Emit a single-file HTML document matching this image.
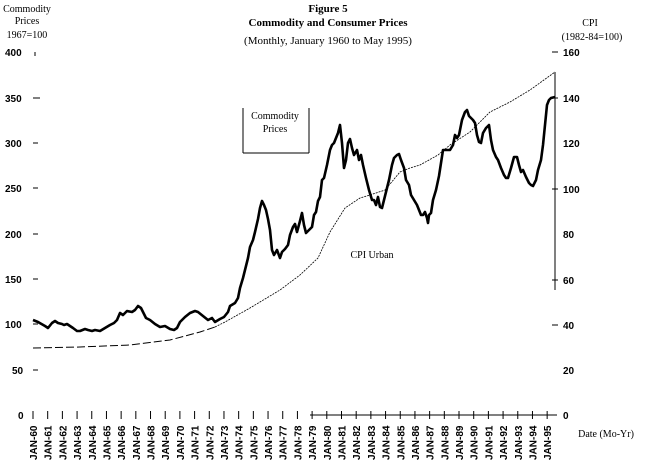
<!DOCTYPE html>
<html><head><style>
body{margin:0;background:#fff;}
svg{display:block;}
.s{font-family:"Liberation Serif",serif;font-size:11px;}
.n{font-family:"Liberation Sans",sans-serif;font-size:10px;}
</style></head><body>
<svg width="645" height="462" viewBox="0 0 645 462" xmlns="http://www.w3.org/2000/svg">
<rect width="645" height="462" fill="#fff"/>
<g class="s" text-anchor="middle" fill="#000">
<text x="328" y="12" font-weight="bold">Figure 5</text>
<text x="328" y="26" font-weight="bold">Commodity and Consumer Prices</text>
<text x="328" y="44">(Monthly, January 1960 to May 1995)</text>
<text x="27" y="12" font-size="10">Commodity</text>
<text x="27" y="24" font-size="10">Prices</text>
<text x="27" y="38" font-size="10">1967=100</text>
<text x="590" y="26" font-size="10">CPI</text>
<text x="592" y="40" font-size="10">(1982-84=100)</text>
<text x="275" y="119" font-size="10">Commodity</text>
<text x="275" y="132" font-size="10">Prices</text>
<text x="372" y="258" font-size="10">CPI Urban</text>
<text x="606" y="437" font-size="10">Date (Mo-Yr)</text>
</g>
<g class="n" font-weight="bold" fill="#000">
<text x="5" y="56">400</text><text x="5" y="102">350</text><text x="5" y="147">300</text>
<text x="5" y="192">250</text><text x="5" y="238">200</text><text x="5" y="283">150</text>
<text x="5" y="328">100</text><text x="12" y="374">50</text><text x="18" y="419">0</text>
<text x="563" y="56">160</text><text x="563" y="102">140</text><text x="563" y="147">120</text>
<text x="563" y="193">100</text><text x="563" y="238">80</text><text x="563" y="284">60</text>
<text x="563" y="329">40</text><text x="563" y="374">20</text><text x="563" y="419">0</text>
</g>
<g stroke="#000" stroke-width="1">
<line x1="35" y1="52" x2="35" y2="56"/><line x1="33" y1="98" x2="40" y2="98"/><line x1="33" y1="143" x2="38" y2="143"/>
<line x1="33" y1="188" x2="38" y2="188"/><line x1="33" y1="234" x2="38" y2="234"/><line x1="33" y1="279" x2="38" y2="279"/>
<line x1="33" y1="324" x2="38" y2="324"/><line x1="33" y1="370" x2="38" y2="370"/>
<line x1="555" y1="72" x2="555" y2="290"/>
<line x1="552" y1="52" x2="558" y2="52"/><line x1="552" y1="98" x2="558" y2="98"/><line x1="552" y1="189" x2="558" y2="189"/>
<line x1="552" y1="280" x2="558" y2="280"/><line x1="552" y1="325" x2="558" y2="325"/>
<line x1="310" y1="415" x2="557" y2="415"/>
<line x1="243" y1="108" x2="243" y2="153"/><line x1="243" y1="153" x2="309" y2="153"/><line x1="309" y1="108" x2="309" y2="153"/>
</g>
<g stroke="#000" stroke-width="1" id="ticks"></g>
<g class="n" font-weight="bold" fill="#000" id="xl"></g>
<polyline fill="none" stroke="#000" stroke-width="1" stroke-dasharray="8,3" points="33,348 80,347 130,345 170,340 200,332 215,327"/>
<polyline fill="none" stroke="#000" stroke-width="0.8" stroke-dasharray="2,1" points="215,327 225,322 250,308 280,290 300,275 318,258 330,232 345,208 360,198 370,195 385,190 400,172 410,168 420,165 438,155 450,145 470,132 490,112 510,102 530,90 555,72"/>
<polyline fill="none" stroke="#000" stroke-width="2.6" stroke-linejoin="round" points="33,320 38,322 45,326 48,328 52,323 55,321 58,323 62,324 64,325 67,324 70,326 73,328 77,331 80,331 85,329 88,330 92,331 95,330 100,331 105,328 110,325 114,323 117,320 120,313 123,315 127,311 132,312 135,310 138,306 141,308 143,312 146,318 150,320 155,324 160,327 165,326 170,329 174,330 177,328 180,322 185,317 190,313 195,311 198,312 203,316 208,320 212,318 215,322 220,319 224,317 228,312 230,306 235,303 238,298 240,288 243,278 245,270 248,258 250,247 253,240 255,232 258,219 260,208 262,201 264,205 266,210 268,219 270,230 272,250 274,255 277,250 280,258 282,252 285,249 288,245 290,235 293,227 295,224 297,232 300,221 302,213 304,225 306,233 308,231 312,227 314,215 316,212 318,201 320,197 322,180 324,178 327,165 330,150 332,145 334,143 336,138 338,133 340,125 342,143 344,168 346,160 348,143 350,139 352,148 354,155 357,150 359,160 361,155 363,165 366,178 369,190 372,200 374,200 376,205 378,197 380,207 382,208 384,200 387,188 389,180 392,165 394,158 397,155 399,154 401,160 404,168 406,180 409,185 411,195 414,200 417,205 419,210 421,215 423,215 425,212 427,218 428,223 429,215 431,213 433,200 436,190 439,176 443,150 446,150 450,150 453,145 455,135 457,138 459,135 462,120 465,112 467,110 469,116 473,120 475,123 477,135 479,142 481,143 483,133 486,128 489,125 491,140 493,150 496,157 498,160 501,168 504,175 506,178 508,178 511,168 514,157 517,157 519,165 521,172 523,170 526,177 529,183 531,185 533,186 536,180 538,170 541,160 543,145 545,125 547,105 549,100 551,98 555,97"/>
<script>
var t=document.getElementById('ticks'),l=document.getElementById('xl'),ns='http://www.w3.org/2000/svg';
for(var i=0;i<36;i++){var x=33+i*14.69;
var ln=document.createElementNS(ns,'line');ln.setAttribute('x1',x);ln.setAttribute('x2',x);ln.setAttribute('y1',411);ln.setAttribute('y2',419);t.appendChild(ln);
var tx=document.createElementNS(ns,'text');var y=i+60;tx.textContent='JAN-'+y;
tx.setAttribute('transform','translate('+(x+4)+',460) rotate(-90)');l.appendChild(tx);}
</script>
</svg>
</body></html>
